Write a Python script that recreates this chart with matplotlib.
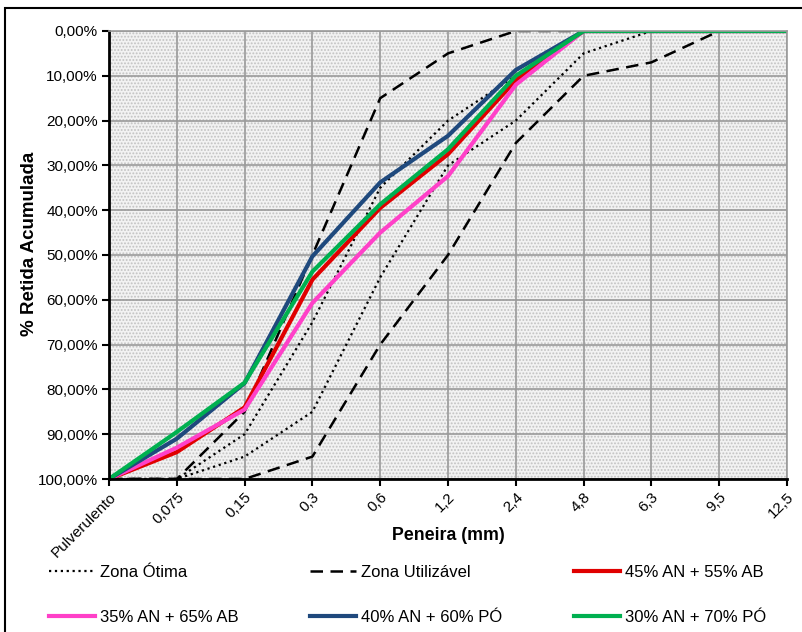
import matplotlib.pyplot as plt
from matplotlib.patches import Rectangle

plt.rcParams['font.family'] = ['Liberation Sans', 'DejaVu Sans']
plt.rcParams['hatch.linewidth'] = 0.9

peneiras = ['Pulverulento', '0,075', '0,15', '0,3', '0,6', '1,2', '2,4', '4,8', '6,3', '9,5', '12,5']

# limites NBR 7211 (% retida acumulada)
otima_inf = [100, 100, 90, 65, 35, 20, 10, 0, 0, 0, 0]
otima_sup = [100, 100, 95, 85, 55, 30, 20, 5, 0, 0, 0]
util_inf = [100, 100, 85, 50, 15, 5, 0, 0, 0, 0, 0]
util_sup = [100, 100, 100, 95, 70, 50, 25, 10, 7, 0, 0]

# misturas
an45_ab55 = [100, 94, 84, 55.5, 39.5, 27.5, 11, 0, 0, 0, 0]
an35_ab65 = [100, 93, 84.5, 60.7, 45, 32.4, 12, 0, 0, 0, 0]
an40_po60 = [100, 91, 78.6, 50.3, 33.8, 23.4, 8.7, 0, 0, 0, 0]
an30_po70 = [100, 89.5, 78.5, 53.7, 38.7, 26.4, 10, 0, 0, 0, 0]

x = list(range(len(peneiras)))

fig = plt.figure(figsize=(8.03, 6.32), dpi=100)
ax = fig.add_axes([109/803, 1 - 479/632, (787 - 109)/803, (479 - 31)/632])

# fundo pontilhado (padrão do Excel)
ax.set_facecolor('#f2f2f2')
ax.add_patch(Rectangle((0, 0), 1, 1, transform=ax.transAxes, facecolor='none',
                       edgecolor='#c2c2c2', lw=0, hatch='.....', zorder=0))

l1, = ax.plot(x, otima_inf, ':', color='black', lw=1.6, label='Zona Ótima')
ax.plot(x, otima_sup, ':', color='black', lw=1.6)
l2, = ax.plot(x, util_inf, '--', color='black', lw=1.8, dashes=(5, 3), label='Zona Utilizável')
ax.plot(x, util_sup, '--', color='black', lw=1.8, dashes=(5, 3))
l3, = ax.plot(x, an45_ab55, color='#e00000', lw=3, label='45% AN + 55% AB')
l4, = ax.plot(x, an35_ab65, color='#ff40c8', lw=3, label='35% AN + 65% AB')
l5, = ax.plot(x, an40_po60, color='#1f497d', lw=3, label='40% AN + 60% PÓ')
l6, = ax.plot(x, an30_po70, color='#00b050', lw=3, label='30% AN + 70% PÓ')

ax.set_xlim(0, 10)
ax.set_ylim(100, 0)
ax.set_xticks(x)
ax.set_xticklabels(peneiras, rotation=45, ha='right', rotation_mode='anchor', fontsize=11)
ax.set_yticks(range(0, 101, 10))
ax.set_yticklabels([f'{v},00%' for v in range(0, 101, 10)], fontsize=11)
ax.grid(True, color='#9a9a9a', lw=1.2)
ax.set_axisbelow(True)

for s in ['top', 'right']:
    ax.spines[s].set_color('#9a9a9a')
    ax.spines[s].set_linewidth(1.2)
ax.spines['left'].set_linewidth(2)
ax.spines['bottom'].set_linewidth(2)
ax.tick_params(axis='both', direction='out', length=5, width=1.5, pad=3)

ax.set_xlabel('Peneira (mm)', fontsize=12.8, fontweight='bold')
ax.xaxis.set_label_coords(0.5, (479 - 527) / 448)
ax.set_ylabel('% Retida Acumulada', fontsize=13.5, fontweight='bold', va='center')
ax.yaxis.set_label_coords((30 - 109) / 678, (479 - 244) / 448)

handles = [l1, l4, l2, l5, l3, l6]
fig.legend(handles=handles, labels=[h.get_label() for h in handles], ncol=3,
           loc='upper left', bbox_to_anchor=(34/803, 1 - 550/632), frameon=False,
           fontsize=12, handlelength=2.75, handletextpad=0.3, columnspacing=4.3,
           labelspacing=1.8)

fig.add_artist(Rectangle((5/803, -0.1), 1.1, 1 - 8/632 + 0.1, transform=fig.transFigure,
                         facecolor='none', edgecolor='black', lw=1.5))

fig.savefig('out.png', dpi=100)
